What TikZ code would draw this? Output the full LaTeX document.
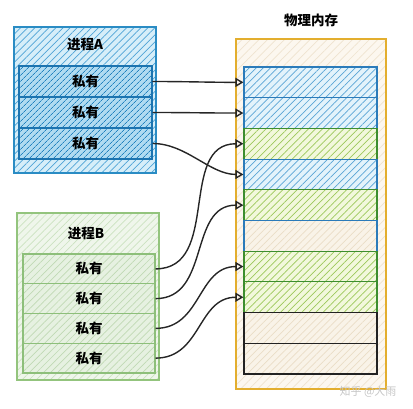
\documentclass[tikz,border=0pt]{standalone}
\usepackage{fontspec}
\setmainfont{Noto Sans CJK SC}
\usepackage{tikz}
\usetikzlibrary{arrows.meta,patterns.meta}
\definecolor{aline}{HTML}{2A8CC4}
\definecolor{afill}{HTML}{D6EEF9}
\definecolor{ahatch}{HTML}{4FA4D6}
\definecolor{arline}{HTML}{1C74B0}
\definecolor{arfill}{HTML}{B0DBF1}
\definecolor{arhatch}{HTML}{2282BE}
\definecolor{bline}{HTML}{93C47D}
\definecolor{bfill}{HTML}{EFF6EB}
\definecolor{bhatch}{HTML}{CBE2C0}
\definecolor{brline}{HTML}{8DBF7A}
\definecolor{brfill}{HTML}{E6F1E1}
\definecolor{brhatch}{HTML}{C0D9B4}
\definecolor{mline}{HTML}{E3AE2E}
\definecolor{mfill}{HTML}{FCF7EF}
\definecolor{mhatch}{HTML}{EFE3CF}
\definecolor{mbline}{HTML}{2B7BBA}
\definecolor{mbfill}{HTML}{E3F3FB}
\definecolor{mbhatch}{HTML}{5AA5D5}
\definecolor{mgline}{HTML}{3C8D2F}
\definecolor{mgfill}{HTML}{F2F8DC}
\definecolor{mghatch}{HTML}{9CC85A}
\definecolor{meline}{HTML}{222222}
\definecolor{mefill}{HTML}{F9F3E8}
\definecolor{mehatch}{HTML}{EADDC6}

\begin{document}
\begin{tikzpicture}[x=1pt,y=-1pt]
\tikzset{font={\fontsize{13.5}{15}\selectfont\bfseries}}
\tikzset{
  hatch/.style={pattern={Lines[angle=45,distance=#1,line width=0.7pt]}},
  box/.style={draw, line width=1.1pt, inner sep=0pt},
  procA/.style={box, draw=aline, preaction={fill=afill}, hatch=5pt, pattern color=ahatch, minimum width=142pt, minimum height=146pt},
  rowA/.style={box, draw=arline, line width=1.3pt, preaction={fill=arfill}, hatch=4pt, pattern color=arhatch, minimum width=133pt, minimum height=31pt},
  procB/.style={box, draw=bline, preaction={fill=bfill}, hatch=5pt, pattern color=bhatch, minimum width=142pt, minimum height=167pt},
  rowB/.style={box, draw=brline, preaction={fill=brfill}, hatch=5pt, pattern color=brhatch, minimum width=132pt, minimum height=29.75pt},
  mem/.style={box, draw=mline, line width=1.6pt, preaction={fill=mfill}, hatch=6pt, pattern color=mhatch, minimum width=150pt, minimum height=350pt},
  rowM/.style={box, hatch=5pt, minimum width=133pt, minimum height=30.7pt},
  link/.style={line width=1.4pt, black!85, -{Triangle[open,length=8pt,width=9pt]}}
}
\useasboundingbox (0,0) rectangle (413,409);

%Process A
\node[procA] (procA) at (85,100) {};
\node(titleA) at (85,44) {进程A};
\foreach \i in {1,2,3}
\node[rowA] (a\i) at (85.5,{66+15.5+31*(\i-1)}) {私有};

%Process B
\node[procB] (procB) at (88,296.5) {};
\node(titleB) at (86,233) {进程B};
\foreach \i in {1,2,3,4}
\node[rowB] (b\i) at (89,{254+14.875+29.75*(\i-1)}) {私有};

%Physical memory
\node[mem] (mem) at (311,214) {};
\node(titleM) at (311,20) {物理内存};
\foreach \bc/\fc/\hc [count=\i] in {mbline/mbfill/mbhatch,mbline/mbfill/mbhatch,mgline/mgfill/mghatch,mbline/mbfill/mbhatch,mgline/mgfill/mghatch,mbline/mefill/mehatch,mgline/mgfill/mghatch,mgline/mgfill/mghatch,meline/mefill/mehatch,meline/mefill/mehatch}
\node[rowM, draw=\bc, preaction={fill=\fc}, pattern color=\hc] (m\i) at (310.5,{67+15.35+30.7*(\i-1)}) {};

%Mapping
\draw[link] (a1.east) to[out=0,in=180] (m1.west);
\draw[link] (a2.east) to[out=0,in=180] (m2.west);
\draw[link] (a3.east) to[out=0,in=180,looseness=0.9] (m4.west);
\draw[link] (b1.east) to[out=0,in=180,looseness=1.1] (m3.west);
\draw[link] (b2.east) to[out=0,in=180,looseness=1.1] (m5.west);
\draw[link] (b3.east) to[out=0,in=180,looseness=1.1] (m7.west);
\draw[link] (b4.east) to[out=0,in=180,looseness=1.1] (m8.west);

\node[text=gray!45, font={\fontsize{11}{12}\selectfont}] (mark) at (368,392) {知乎 @大雨};
\end{tikzpicture}
\end{document}
